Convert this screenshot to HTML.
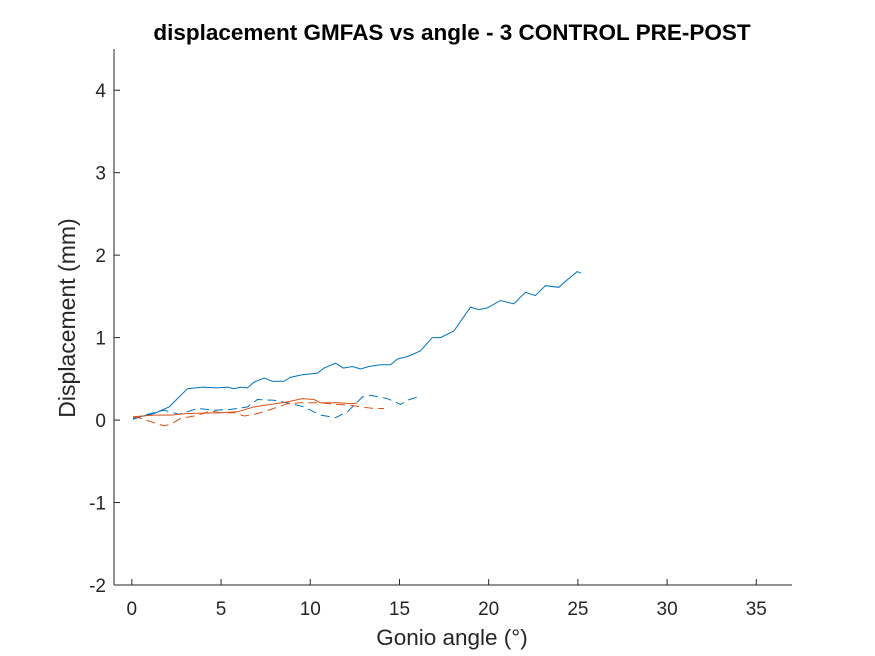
<!DOCTYPE html>
<html><head><meta charset="utf-8"><style>
body{margin:0;background:#fff}
svg{display:block;font-family:"Liberation Sans",Arial,sans-serif}
</style></head><body>
<svg id="chart" width="875" height="656" viewBox="0 0 875 656">
<rect width="875" height="656" fill="#fff"/>
<text x="452" y="40" text-anchor="middle" font-size="22.5" font-weight="bold" fill="#000">displacement GMFAS vs angle - 3 CONTROL PRE-POST</text>
<g id="axes"></g>
<g id="series"></g>
<text x="452" y="645" text-anchor="middle" font-size="22.5" fill="#262626">Gonio angle (°)</text>
<text transform="translate(75,318) rotate(-90)" text-anchor="middle" font-size="23" fill="#262626">Displacement (mm)</text>
</svg>
<script>
const xTicks=[0,5,10,15,20,25,30,35];
const yTicks=[-2,-1,0,1,2,3,4];
const blueSolidX=[0.06,1.25,2.09,3.12,3.96,4.8,5.36,5.73,6.1,6.48,6.85,7.41,7.88,8.53,8.9,9.56,10.4,10.77,11.42,11.86,12.36,12.82,13.29,13.94,14.5,14.88,15.44,16.18,16.84,17.3,18.05,18.98,19.45,19.92,20.66,21.41,22.06,22.62,23.18,23.93,24.4,24.96,25.18];
const blueSolidY=[0.02,0.08,0.16,0.38,0.40,0.39,0.40,0.38,0.40,0.39,0.46,0.51,0.47,0.47,0.52,0.55,0.57,0.63,0.69,0.63,0.65,0.62,0.65,0.67,0.67,0.74,0.77,0.84,1.0,1.0,1.08,1.37,1.34,1.36,1.45,1.41,1.55,1.51,1.63,1.61,1.70,1.80,1.78];
const blueDashX=[0.06,0.88,1.81,2.65,3.68,4.61,5.54,6.48,7.04,7.97,8.9,9.65,10.58,11.42,12.08,12.92,13.38,14.32,15.06,15.44,16.0];
const blueDashY=[0.01,0.07,0.12,0.07,0.14,0.12,0.13,0.16,0.25,0.24,0.20,0.16,0.06,0.03,0.10,0.28,0.30,0.26,0.19,0.24,0.28];
const orangeSolidX=[0.06,1.25,2.18,3.12,4.98,5.92,6.85,7.78,8.72,9.56,10.21,10.58,11.51,12.45,12.64];
const orangeSolidY=[0.04,0.06,0.06,0.08,0.09,0.10,0.16,0.19,0.22,0.26,0.25,0.21,0.21,0.20,0.21];
const orangeDashX=[0.06,0.51,1.07,1.81,2.18,2.74,3.49,3.86,4.42,4.98,5.73,6.29,6.85,7.41,7.78,8.34,8.72,9.46,10.58,11.51,12.26,12.82,13.57,14.13];
const orangeDashY=[0.04,0.02,-0.02,-0.07,-0.05,0.02,0.05,0.07,0.11,0.09,0.09,0.05,0.07,0.10,0.13,0.17,0.20,0.21,0.21,0.19,0.18,0.16,0.14,0.14];

const L=114,R=792,T=49,B=585,xMin=-1,xMax=37,yMin=-2,yMax=4.5;
const sx=v=>L+(v-xMin)/(xMax-xMin)*(R-L);
const sy=v=>B-(v-yMin)/(yMax-yMin)*(B-T);
const NS='http://www.w3.org/2000/svg';
const axes=document.getElementById('axes'),series=document.getElementById('series');
function mk(tag,attrs,parent){const e=document.createElementNS(NS,tag);for(const k in attrs)e.setAttribute(k,attrs[k]);parent.appendChild(e);return e;}
const xl=mk('line',{x1:L,y1:B,x2:R,y2:B,stroke:'#262626','stroke-width':1},axes);


const yl=mk('line',{x1:L,y1:T,x2:L,y2:B,stroke:'#262626','stroke-width':1},axes);


xTicks.forEach(v=>{
  const t=mk('line',{x1:sx(v),y1:B,x2:sx(v),y2:B-6,stroke:'#262626'},axes);
  
  
  const s=mk('text',{x:sx(v),y:B+30,'text-anchor':'middle','font-size':19,fill:'#262626'},axes);
  s.textContent=v;
  
  
});
yTicks.forEach(v=>{
  const t=mk('line',{x1:L,y1:sy(v),x2:L+6,y2:sy(v),stroke:'#262626'},axes);
  
  
  const s=mk('text',{x:L-8,y:sy(v)+7,'text-anchor':'end','font-size':19,fill:'#262626'},axes);
  s.textContent=v;
  
  
});
function line(xs,ys,color,dash,name){
  const d=xs.map((x,i)=>(i?'L':'M')+sx(x).toFixed(1)+','+sy(ys[i]).toFixed(1)).join('');
  const p=mk('path',{d:d,fill:'none',stroke:color,'stroke-width':1},series);
  if(dash)p.setAttribute('stroke-dasharray',dash);
  
  
}
line(blueSolidX,blueSolidY,'#0072BD',null,'series-blue-solid');
line(blueDashX,blueDashY,'#0072BD','9,5','series-blue-dashed');
line(orangeSolidX,orangeSolidY,'#D95319',null,'series-orange-solid');
line(orangeDashX,orangeDashY,'#D95319','9,5','series-orange-dashed');
</script>
</body></html>
